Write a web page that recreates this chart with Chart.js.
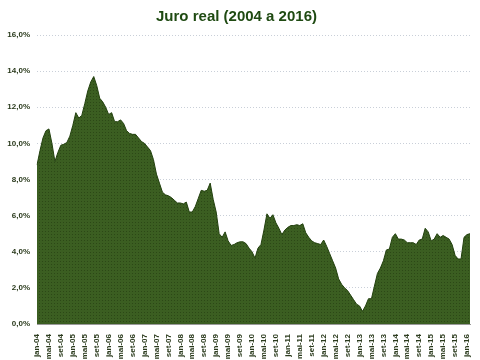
<!DOCTYPE html>
<html>
<head>
<meta charset="utf-8">
<script src="https://cdn.jsdelivr.net/npm/chart.js@4"></script>
<style>
  html, body { margin: 0; padding: 0; background: #fff; }
  #wrap { width: 480px; height: 360px; }
</style>
</head>
<body>
<div id="wrap"><canvas id="chart"></canvas></div>
<script>
// month names and years used for the category labels (jan-04 .. fev-16)
const monthNames = ['jan', 'fev', 'mar', 'abr', 'mai', 'jun', 'jul', 'ago', 'set', 'out', 'nov', 'dez'];
const years = ['04', '05', '06', '07', '08', '09', '10', '11', '12', '13', '14', '15', '16'];

// real interest rate, % (monthly)
const juroReal = [
  8.8, 9.6, 10.3, 10.7, 10.8, 10.0, 9.0, 9.5, 9.9, 9.95, 10.05, 10.4,
  11.0, 11.7, 11.4, 11.55, 12.2, 12.9, 13.4, 13.7, 13.2, 12.5, 12.3, 12.0,
  11.6, 11.7, 11.2, 11.2, 11.3, 11.1, 10.7, 10.55, 10.5, 10.5, 10.3, 10.1,
  10.0, 9.8, 9.6, 9.1, 8.3, 7.8, 7.3, 7.15, 7.1, 7.0, 6.85, 6.7,
  6.7, 6.65, 6.75, 6.2, 6.2, 6.5, 6.95, 7.4, 7.35, 7.4, 7.8, 6.9,
  6.2, 5.0, 4.8, 5.1, 4.6, 4.35, 4.4, 4.5, 4.55, 4.55, 4.45, 4.2,
  4.0, 3.65, 4.2, 4.4, 5.2, 6.1, 5.85, 6.05, 5.6, 5.3, 4.95, 5.2,
  5.35, 5.45, 5.45, 5.5, 5.45, 5.55, 5.05, 4.8, 4.6, 4.5, 4.45, 4.4,
  4.65, 4.3, 3.9, 3.5, 3.1, 2.5, 2.2, 2.0, 1.85, 1.6, 1.35, 1.1,
  1.0, 0.7, 1.0, 1.4, 1.4, 2.1, 2.8, 3.1, 3.5, 4.1, 4.15, 4.8,
  5.0, 4.7, 4.7, 4.65, 4.5, 4.5, 4.5, 4.4, 4.65, 4.7, 5.3, 5.1,
  4.6, 4.7, 5.0, 4.8, 4.9, 4.8, 4.7, 4.4, 3.8, 3.6, 3.6, 4.8,
  4.95, 5.0
];

const yTicks = [0, 2, 4, 6, 8, 10, 12, 14, 16];

const labels = [];
for (const y of years) {
  for (const m of monthNames) {
    if (labels.length < juroReal.length) labels.push(m + '-' + y);
  }
}

// dotted texture like the original fill
function makePattern() {
  const p = document.createElement('canvas');
  p.width = 3; p.height = 3;
  const c = p.getContext('2d');
  c.fillStyle = '#3b5e21';
  c.fillRect(0, 0, 3, 3);
  c.fillStyle = '#2c4816';
  c.fillRect(0, 0, 1, 1);
  return c.createPattern(p, 'repeat');
}

const ctx = document.getElementById('chart').getContext('2d');
new Chart(ctx, {
  type: 'line',
  data: {
    labels: labels,
    datasets: [{
      label: 'Juro real',
      data: juroReal,
      fill: 'origin',
      backgroundColor: makePattern(),
      borderColor: '#23410f',
      borderWidth: 1,
      pointRadius: 0,
      tension: 0
    }]
  },
  options: {
    responsive: true,
    maintainAspectRatio: false,
    animation: false,
    layout: { padding: { left: 3, right: 10, top: 0, bottom: 0 } },
    plugins: {
      legend: { display: false },
      tooltip: { enabled: false },
      title: {
        display: true,
        text: 'Juro real (2004 a 2016)',
        color: '#1f4a12',
        font: { family: 'Liberation Sans, Arial', size: 15, weight: 'bold' },
        padding: { top: 8, bottom: 9 }
      }
    },
    scales: {
      x: {
        offset: false,
        grid: { display: false },
        border: { display: true, color: '#9a9a9a' },
        afterFit: axis => { axis.height = 36; },
        ticks: {
          autoSkip: false,
          maxRotation: 90,
          minRotation: 90,
          padding: 2,
          color: '#2a3a1c',
          font: { family: 'Liberation Sans, Arial', size: 8, weight: 'bold' },
          callback: function (value, index) {
            return index % 4 === 0 ? this.getLabelForValue(value) : null;
          }
        }
      },
      y: {
        min: 0,
        max: 16,
        afterBuildTicks: function (axis) {
          axis.ticks = yTicks.map(v => ({ value: v }));
        },
        afterFit: axis => { axis.width = 34; },
        grid: { color: '#c9cfd8', lineWidth: 1, drawTicks: false },
        border: { display: false, dash: [1, 2] },
        ticks: {
          padding: 7,
          color: '#2a3a1c',
          font: { family: 'Liberation Sans, Arial', size: 8, weight: 'bold' },
          callback: v => v.toFixed(1).replace('.', ',') + '%'
        }
      }
    }
  }
});
</script>
</body>
</html>
